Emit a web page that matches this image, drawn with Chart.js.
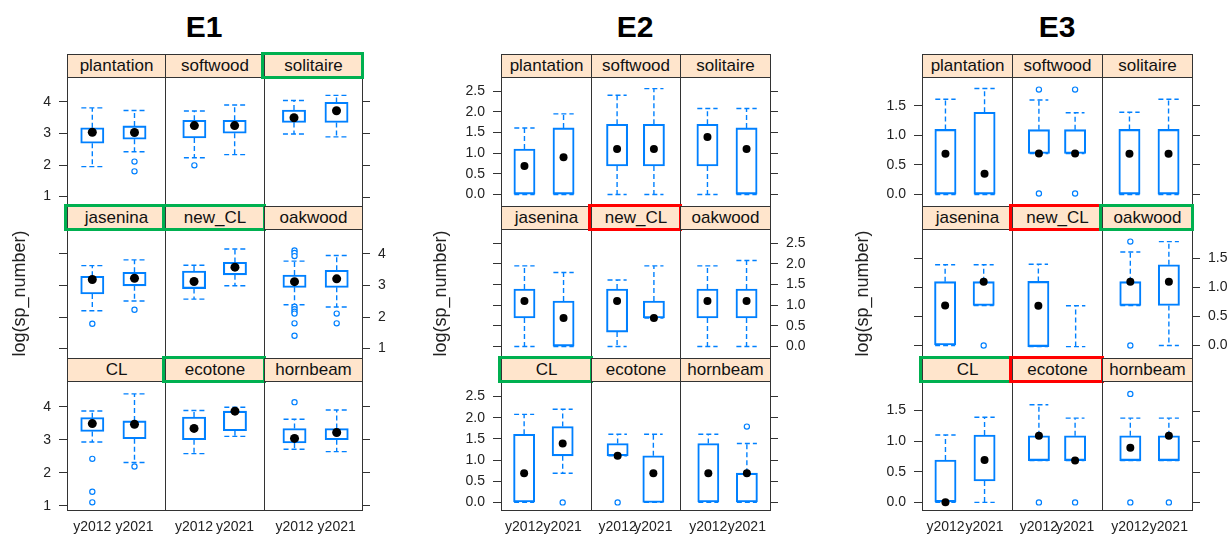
<!DOCTYPE html>
<html>
<head>
<meta charset="utf-8">
<script src="https://cdn.jsdelivr.net/npm/chart.js@4.4.0/dist/chart.umd.min.js"></script>
<style>
  html, body { margin: 0; padding: 0; background: #fff; overflow: hidden; }
  #page { position: relative; width: 1231px; height: 536px; font-family: "Liberation Sans", Arial, sans-serif; }
  .title { position: absolute; top: 10px; line-height: 30px; font: bold 30px "Liberation Sans", Arial, sans-serif; transform: translateX(-50%); color: #000; }
  .strip { position: absolute; box-sizing: border-box; background: #ffe5cc; border: 1px solid #333; text-align: center; font-size: 17px; color: #111; overflow: hidden; white-space: nowrap; }
  .frame { position: absolute; box-sizing: border-box; border: 1px solid #333; pointer-events: none; }
  .mark { position: absolute; box-sizing: border-box; border: 3px solid; pointer-events: none; }
  canvas { position: absolute; }
</style>
</head>
<body>
<div id="page"></div>
<script>
const sites = ["plantation", "softwood", "solitaire", "jasenina", "new_CL", "oakwood", "CL", "ecotone", "hornbeam"];
const years = ["y2012", "y2021"];

// each row: [low whisker, Q1, median, Q3, high whisker]
const e1Y2012 = [
  [1.95, 2.69, 3.04, 3.18, 3.81],
  [2.23, 2.86, 3.25, 3.42, 3.71],
  [2.98, 3.34, 3.49, 3.73, 4.03],
  [2.20, 2.73, 3.19, 3.29, 3.63],
  [2.57, 2.90, 3.12, 3.45, 3.63],
  [2.39, 2.94, 3.12, 3.33, 3.77],
  [2.93, 3.25, 3.49, 3.67, 3.87],
  [2.57, 2.99, 3.33, 3.67, 3.87],
  [2.71, 2.90, 3.04, 3.34, 3.62]
];
const e1Y2021 = [
  [2.42, 2.82, 3.03, 3.24, 3.73],
  [2.33, 3.01, 3.25, 3.42, 3.90],
  [2.89, 3.34, 3.71, 3.97, 4.19],
  [2.51, 2.99, 3.23, 3.42, 3.81],
  [2.99, 3.33, 3.57, 3.72, 4.14],
  [2.32, 2.94, 3.21, 3.48, 3.95],
  [2.31, 3.03, 3.47, 3.57, 4.39],
  [3.09, 3.26, 3.85, 3.85, 3.97],
  [2.64, 3.00, 3.22, 3.34, 3.90]
];
const e1Out2012 = [[], [1.99], [], [1.79], [], [4.11, 4.03, 3.93, 2.33, 2.25, 2.17, 2.11, 1.80, 1.41], [2.42, 1.42, 1.10], [], [4.14]];
const e1Out2021 = [[2.11, 1.80], [], [], [2.23], [], [2.11, 1.80], [2.19], [], []];

const e2Y2012 = [
  [0, 0, 0.69, 1.10, 1.61],
  [0, 0.69, 1.10, 1.70, 2.40],
  [0, 0.69, 1.39, 1.70, 2.08],
  [0, 0.69, 1.10, 1.39, 1.95],
  [0, 0.35, 1.10, 1.39, 1.61],
  [0, 0.69, 1.10, 1.39, 1.95],
  [0, 0, 0.69, 1.61, 2.08],
  [1.10, 1.10, 1.10, 1.39, 1.61],
  [0, 0, 0.69, 1.39, 1.61]
];
const e2Y2021 = [
  [0, 0, 0.90, 1.61, 1.95],
  [0, 0.69, 1.10, 1.70, 2.56],
  [0, 0, 1.10, 1.61, 2.08],
  [0, 0, 0.69, 1.10, 1.79],
  [0.69, 0.69, 0.69, 1.10, 1.95],
  [0, 0.69, 1.10, 1.39, 2.08],
  [0.69, 1.10, 1.39, 1.79, 2.20],
  [0, 0, 0.69, 1.10, 1.61],
  [0, 0, 0.69, 0.69, 1.39]
];
const e2Out2012 = [[], [], [], [], [], [], [], [0], []];
const e2Out2021 = [[], [], [], [], [], [], [0], [], [1.79]];

const e3Y2012 = [
  [0, 0, 0.69, 1.10, 1.61],
  [0.69, 0.69, 0.69, 1.10, 1.61],
  [0, 0, 0.69, 1.10, 1.39],
  [0, 0, 0.69, 1.10, 1.39],
  [0, 0, 0.69, 1.10, 1.39],
  [0.69, 0.69, 1.10, 1.10, 1.61],
  [0, 0, 0, 0.69, 1.10],
  [0.69, 0.69, 1.10, 1.10, 1.61],
  [0.69, 0.69, 0.90, 1.10, 1.39]
];
const e3Y2021 = [
  [0, 0, 0.35, 1.39, 1.79],
  [0.69, 0.69, 0.69, 1.10, 1.39],
  [0, 0, 0.69, 1.10, 1.61],
  [0.69, 0.69, 1.10, 1.10, 1.39],
  [0, 0, null, 0, 0.69],
  [0, 0.69, 1.10, 1.39, 1.79],
  [0, 0.35, 0.69, 1.10, 1.39],
  [0.69, 0.69, 0.69, 1.10, 1.39],
  [0.69, 0.69, 1.10, 1.10, 1.39]
];
const e3Out2012 = [[], [1.79, 0], [], [], [], [1.79, 0], [], [0], [1.79, 0]];
const e3Out2021 = [[], [1.79, 0], [], [0], [], [], [], [0], [0]];

const e1Ticks = [1, 2, 3, 4];
const e2Ticks = [0, 0.5, 1, 1.5, 2, 2.5];
const e3Ticks = [0, 0.5, 1, 1.5];

const GREEN = "#00b050";
const RED = "#ff0000";
const e1Marks = { solitaire: GREEN, jasenina: GREEN, new_CL: GREEN, ecotone: GREEN };
const e2Marks = { new_CL: RED, CL: GREEN };
const e3Marks = { new_CL: RED, oakwood: GREEN, CL: GREEN, ecotone: RED };

const BLUE = "#0080ff";
const STRIP_TOPS = [54, 206, 358];
const STRIP_H = 23;
const PANEL_H = 129;
const X_AXIS_H = 30;
const CAP = 0.26; // half box width, x units

const experiments = [
  { name: "E1", y2012: e1Y2012, y2021: e1Y2021, out2012: e1Out2012, out2021: e1Out2021,
    ticks: e1Ticks, min: 0.868, max: 4.624, decimals: 0, marks: e1Marks,
    left: 67, colW: 98.3, leftAxis: 58, rightAxis: 34, titleX: 204, dotR: 4.5 },
  { name: "E2", y2012: e2Y2012, y2021: e2Y2021, out2012: e2Out2012, out2021: e2Out2021,
    ticks: e2Ticks, min: -0.18, max: 2.745, decimals: 1, marks: e2Marks,
    left: 501, colW: 89.7, leftAxis: 71, rightAxis: 42, titleX: 635, dotR: 4 },
  { name: "E3", y2012: e3Y2012, y2021: e3Y2021, out2012: e3Out2012, out2021: e3Out2021,
    ticks: e3Ticks, min: -0.125, max: 1.917, decimals: 1, marks: e3Marks,
    left: 922, colW: 90, leftAxis: 70, rightAxis: 38, titleX: 1057, dotR: 4 }
];

const page = document.getElementById("page");
const tickFont = { family: "'Liberation Sans', Arial, sans-serif", size: 14 };

const addDiv = (cls, x, y, w, h, text) => {
  const d = document.createElement("div");
  d.className = cls;
  d.style.left = x + "px";
  d.style.top = y + "px";
  if (w != null) d.style.width = w + "px";
  if (h != null) d.style.height = h + "px";
  if (text != null) d.textContent = text;
  page.appendChild(d);
  return d;
};

const buildCell = (exp, row, col) => {
  const i = row * 3 + col;
  const x0 = Math.round(exp.left + col * exp.colW);
  const x1 = Math.round(exp.left + (col + 1) * exp.colW);
  const w = x1 - x0;
  const sTop = STRIP_TOPS[row];
  const pTop = sTop + STRIP_H;

  const isLeft = col === 0;
  const isRight = col === 2;
  const isBottom = row === 2;
  const padL = isLeft ? exp.leftAxis : 0;
  const padR = isRight ? exp.rightAxis : 0;
  const padB = isBottom ? X_AXIS_H : 0;
  // lattice alternates tick labels: left on rows 1 & 3, right on row 2
  const showLabels = (isLeft && row !== 1) || (isRight && row === 1);

  const canvas = document.createElement("canvas");
  canvas.width = w + padL + padR;
  canvas.height = PANEL_H + padB;
  canvas.style.left = (x0 - padL) + "px";
  canvas.style.top = pTop + "px";
  page.appendChild(canvas);

  const stats = [exp.y2012[i], exp.y2021[i]];
  const outs = [exp.out2012[i], exp.out2021[i]];

  const boxes = stats.map((s, k) => ({ x: k + 1, y: [s[1], s[3]] }));
  const whiskers = [];
  const caps = [];
  stats.forEach((s, k) => {
    const x = k + 1;
    whiskers.push({ x, y: s[3] }, { x, y: s[4] }, { x, y: null }, { x, y: s[1] }, { x, y: s[0] }, { x, y: null });
    caps.push({ x: x - CAP, y: s[4] }, { x: x + CAP, y: s[4] }, { x, y: null },
              { x: x - CAP, y: s[0] }, { x: x + CAP, y: s[0] }, { x, y: null });
  });
  const medians = stats.map((s, k) => ({ x: k + 1, y: s[2] }));
  const outliers = outs.flatMap((arr, k) => arr.map(v => ({ x: k + 1, y: v })));

  new Chart(canvas, {
    type: "bar",
    data: {
      datasets: [
        { type: "bar", data: boxes, backgroundColor: "rgba(255,255,255,0)", borderColor: BLUE,
          borderWidth: 1.4, borderSkipped: false, barThickness: exp.colW / 2.2 * 0.52, order: 3 },
        { type: "scatter", data: whiskers, showLine: true, spanGaps: false, borderColor: BLUE,
          borderWidth: 1.4, borderDash: [5, 3], pointRadius: 0, order: 2 },
        { type: "scatter", data: caps, showLine: true, spanGaps: false, borderColor: BLUE,
          borderWidth: 1.4, borderDash: [5, 3], pointRadius: 0, order: 2 },
        { type: "scatter", data: outliers, pointStyle: "circle", pointRadius: 2.6,
          pointBorderWidth: 1.2, pointBorderColor: BLUE, pointBackgroundColor: "#fff", order: 1 },
        { type: "scatter", data: medians, pointRadius: exp.dotR, pointBorderWidth: 0,
          pointBackgroundColor: "#000", pointBorderColor: "#000", order: 0 }
      ]
    },
    options: {
      responsive: false,
      devicePixelRatio: 1,
      animation: false,
      events: [],
      layout: { padding: 0 },
      plugins: { legend: { display: false }, tooltip: { enabled: false } },
      scales: {
        x: {
          type: "linear", min: 0.4, max: 2.6, offset: false, display: isBottom,
          grid: { display: false, drawTicks: false },
          border: { display: false },
          ticks: { autoSkip: false, maxRotation: 0, padding: 9, font: tickFont, color: "#222",
                   callback: (v, idx) => years[idx] },
          afterBuildTicks: s => { s.ticks = [{ value: 1 }, { value: 2 }]; },
          afterFit: s => { s.height = padB; s.paddingLeft = 0; s.paddingRight = 0; }
        },
        y: {
          type: "linear", min: exp.min, max: exp.max,
          position: isRight ? "right" : "left",
          display: isLeft || isRight,
          grid: { drawOnChartArea: false, drawTicks: true, tickLength: 8, color: "#333" },
          border: { display: false },
          ticks: { display: showLabels, padding: 8, font: tickFont, color: "#222",
                   callback: v => Number(v).toFixed(exp.decimals) },
          title: { display: isLeft && row === 1, text: "log(sp_number)", padding: 0, color: "#222",
                   font: { family: "'Liberation Sans', Arial, sans-serif", size: 18 } },
          afterBuildTicks: s => { s.ticks = exp.ticks.map(v => ({ value: v })); },
          afterFit: s => { s.width = isLeft ? padL : padR; s.paddingTop = 0; s.paddingBottom = 0; }
        }
      }
    }
  });

  addDiv("frame", x0, pTop, w + 1, PANEL_H + 1);
  addDiv("strip", x0, sTop, w + 1, STRIP_H + 1, sites[i]).style.lineHeight = (STRIP_H - 1) + "px";
  const markColor = exp.marks[sites[i]];
  if (markColor) {
    addDiv("mark", x0 - 3, sTop - 2, w + 5, STRIP_H + 4).style.borderColor = markColor;
  }
};

experiments.forEach(exp => {
  addDiv("title", exp.titleX, 10, null, null, exp.name);
  for (let row = 0; row < 3; row++) {
    for (let col = 0; col < 3; col++) buildCell(exp, row, col);
  }
});
</script>
</body>
</html>
